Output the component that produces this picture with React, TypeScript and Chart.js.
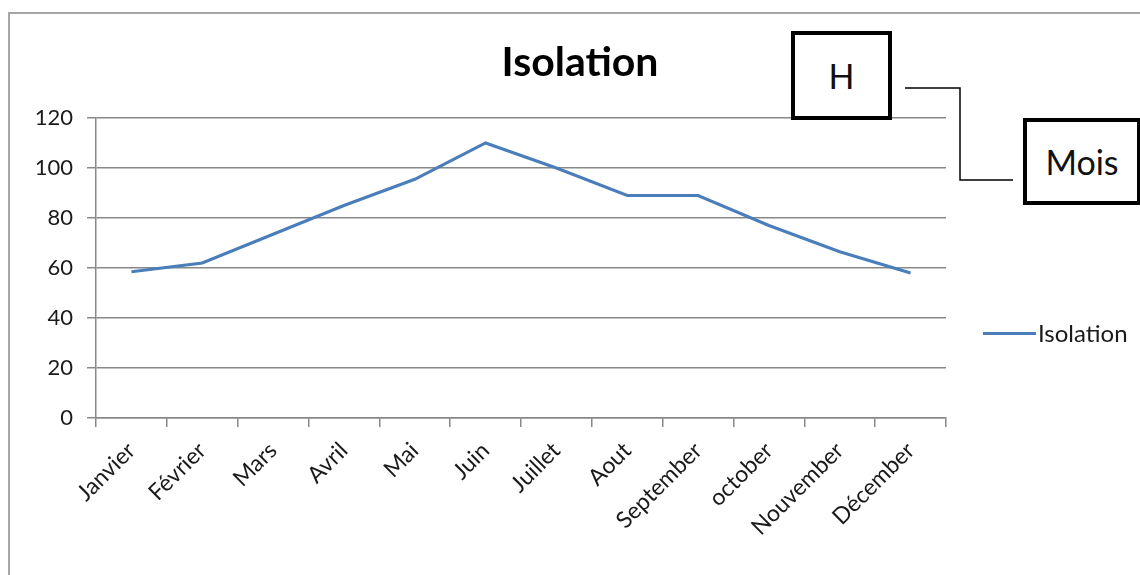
import React, { useEffect, useRef } from "react";
import { Chart, registerables } from "chart.js";

Chart.register(...registerables);

const months: string[] = [
  "Janvier", "Février", "Mars", "Avril", "Mai", "Juin",
  "Juillet", "Aout", "September", "october", "Nouvember", "Décember",
];
const isolationValues: number[] = [58.5, 62, 73.5, 85, 95.5, 110, 100, 89, 89, 77, 66.5, 58];
const seriesName = "Isolation";
const chartTitle = "Isolation";
const yMin = 0;
const yMax = 120;
const yStep = 20;
const boxLabelTop = "H";
const boxLabelRight = "Mois";

const LINE_COLOR = "#4a7ebb";
const GRID_COLOR = "#888888";
const TEXT_COLOR = "#1a1a1a";
const FONT = "Lato, 'Open Sans', sans-serif";

export default function App() {
  const canvasRef = useRef<HTMLCanvasElement | null>(null);

  useEffect(() => {
    if (!canvasRef.current) return;
    const chart = new Chart(canvasRef.current, {
      type: "line",
      data: {
        labels: months,
        datasets: [
          {
            label: seriesName,
            data: isolationValues,
            borderColor: LINE_COLOR,
            backgroundColor: LINE_COLOR,
            borderWidth: 3,
            pointRadius: 0,
            tension: 0,
          },
        ],
      },
      options: {
        responsive: false,
        animation: false,
        devicePixelRatio: 1,
        layout: { padding: { top: 118, right: 194, left: 0, bottom: 0 } },
        plugins: {
          legend: { display: false },
          title: { display: false },
          tooltip: { enabled: false },
        },
        scales: {
          x: {
            type: "category",
            offset: true,
            grid: {
              offset: true,
              drawOnChartArea: false,
              drawTicks: true,
              tickLength: 9,
              color: GRID_COLOR,
              lineWidth: 1.5,
            },
            border: { color: GRID_COLOR, width: 1.5 },
            ticks: {
              autoSkip: false,
              maxRotation: 45,
              minRotation: 45,
              padding: 10,
              color: TEXT_COLOR,
              font: { family: FONT, size: 23 },
            },
            afterFit: (scale: any) => {
              scale.height = 157;
            },
          },
          y: {
            min: yMin,
            max: yMax,
            grid: {
              color: GRID_COLOR,
              lineWidth: 1.5,
              drawTicks: true,
              tickLength: 9,
            },
            border: { color: GRID_COLOR, width: 1.5 },
            ticks: {
              stepSize: yStep,
              padding: 14,
              color: TEXT_COLOR,
              font: { family: FONT, size: 22 },
            },
            afterFit: (scale: any) => {
              scale.width = 96;
            },
          },
        },
      },
    });
    return () => chart.destroy();
  }, []);

  const boxStyle: React.CSSProperties = {
    position: "absolute",
    boxSizing: "border-box",
    border: "4px solid #000",
    background: "#fff",
    display: "flex",
    alignItems: "center",
    justifyContent: "center",
    fontFamily: FONT,
    fontSize: 34,
    color: "#111",
  };

  return (
    <div
      style={{
        position: "fixed",
        left: 0,
        top: 0,
        width: 1140,
        height: 575,
        overflow: "hidden",
        background: "#fff",
      }}
    >
      <div
        style={{
          position: "absolute",
          left: 8,
          top: 12,
          width: 1300,
          height: 800,
          border: "2px solid #a6a6a6",
          boxSizing: "border-box",
        }}
      />
      <canvas
        ref={canvasRef}
        width={1140}
        height={575}
        style={{ position: "absolute", left: 0, top: 0, width: 1140, height: 575 }}
      />
      <div
        style={{
          position: "absolute",
          left: 380,
          width: 400,
          top: 36,
          textAlign: "center",
          fontFamily: FONT,
          fontWeight: 700,
          fontSize: 41,
          lineHeight: "49px",
          color: "#000",
        }}
      >
        {chartTitle}
      </div>
      <div style={{ ...boxStyle, left: 791, top: 31, width: 101, height: 89 }}>{boxLabelTop}</div>
      <div style={{ ...boxStyle, left: 1023, top: 118, width: 118, height: 87 }}>{boxLabelRight}</div>
      <svg
        width={1140}
        height={575}
        style={{ position: "absolute", left: 0, top: 0, pointerEvents: "none" }}
      >
        <polyline
          points="905,88 960,88 960,180 1013,180"
          fill="none"
          stroke="#000"
          strokeWidth={1.5}
        />
      </svg>
      <div
        style={{
          position: "absolute",
          left: 983,
          top: 331.5,
          width: 53,
          height: 3,
          background: LINE_COLOR,
        }}
      />
      <div
        style={{
          position: "absolute",
          left: 1038,
          top: 319,
          fontFamily: FONT,
          fontSize: 24,
          lineHeight: "28px",
          color: TEXT_COLOR,
        }}
      >
        {seriesName}
      </div>
    </div>
  );
}
